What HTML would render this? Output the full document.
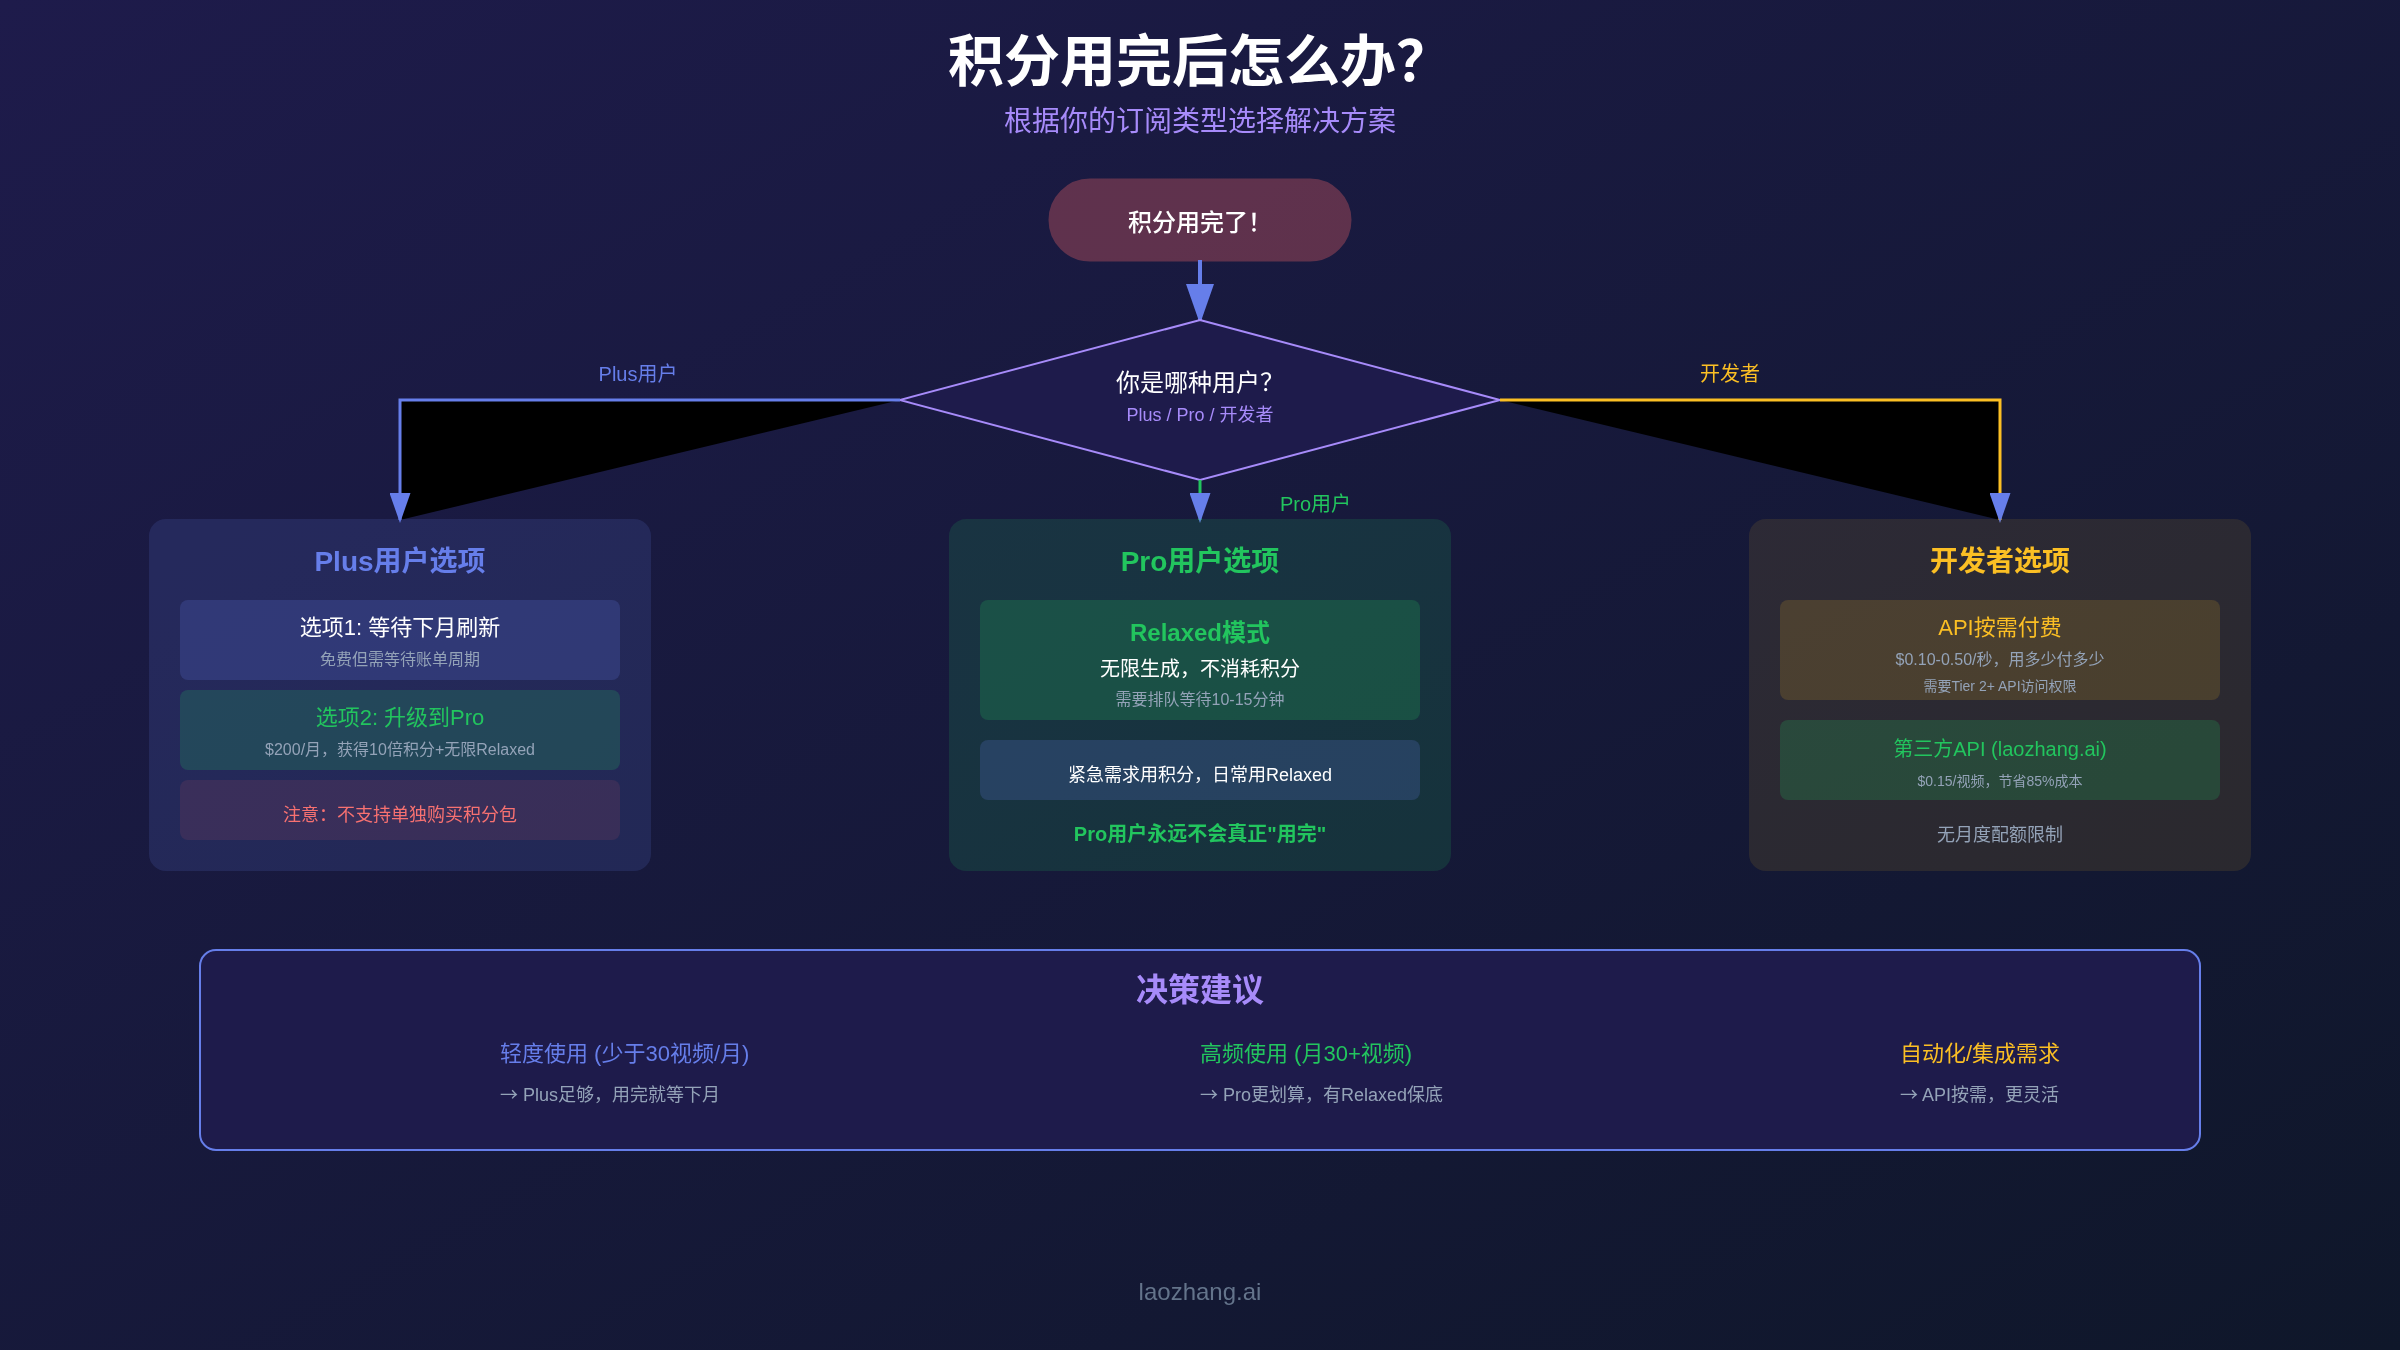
<!DOCTYPE html>
<html lang="zh-CN">
<head>
<meta charset="utf-8">
<title>积分用完后怎么办?</title>
<style>
html,body{margin:0;padding:0;background:#161838;}
body{width:2400px;height:1350px;overflow:hidden;}
svg{display:block;width:2400px;height:1350px;will-change:transform;}
text{font-family:"Liberation Sans","Noto Sans CJK SC",sans-serif;}
.m{text-anchor:middle;}
.b{font-weight:bold;}
.ar{font-family:"Noto Sans CJK SC",sans-serif;}
</style>
</head>
<body>
<svg viewBox="0 0 1200 675" width="2400" height="1350">
<defs>
<linearGradient id="bg" x1="0%" y1="0%" x2="100%" y2="100%">
<stop offset="0%" stop-color="#1e1b4b"/>
<stop offset="100%" stop-color="#0f172a"/>
</linearGradient>
<marker id="arrow" markerWidth="10" markerHeight="7" refX="9" refY="3.5" orient="auto">
<polygon points="0 0, 10 3.5, 0 7" fill="#667eea"/>
</marker>
</defs>
<rect width="1200" height="675" fill="url(#bg)"/>

<!-- header -->
<text x="600" y="40.3" class="m b" font-size="28" fill="#ffffff">积分用完后怎么办？</text>
<text x="600" y="65.3" class="m" font-size="14" fill="#a78bfa">根据你的订阅类型选择解决方案</text>

<!-- start -->
<rect x="525" y="90" width="150" height="40" rx="20" fill="#ff6b6b" stroke="#ff6b6b" stroke-width="1.5" opacity="0.3"/>
<text x="600" y="115.3" class="m" font-size="12" font-weight="500" fill="#ffffff">积分用完了！</text>
<line x1="600" y1="130" x2="600" y2="160" stroke="#667eea" stroke-width="2" marker-end="url(#arrow)"/>

<!-- decision -->
<polygon points="600,160 750,200 600,240 450,200" fill="#1e1b4b" stroke="#a78bfa" stroke-width="1"/>
<text x="600" y="195.3" class="m" font-size="12" fill="#ffffff">你是哪种用户？</text>
<text x="600" y="210.3" class="m" font-size="9" fill="#a78bfa">Plus / Pro / 开发者</text>

<!-- branches -->
<path d="M450,200 L200,200 L200,260" stroke="#667eea" stroke-width="1.5" marker-end="url(#arrow)"/>
<path d="M750,200 L1000,200 L1000,260" stroke="#fbbf24" stroke-width="1.5" marker-end="url(#arrow)"/>
<line x1="600" y1="240" x2="600" y2="260" stroke="#22c55e" stroke-width="1.5" marker-end="url(#arrow)"/>

<text x="319" y="190.3" class="m" font-size="10" fill="#667eea">Plus用户</text>
<text x="640" y="255.3" font-size="10" fill="#22c55e">Pro用户</text>
<text x="865" y="190.3" class="m" font-size="10" fill="#fbbf24">开发者</text>

<!-- Plus card -->
<rect x="75" y="260" width="250" height="175" rx="8" fill="#667eea" stroke="#667eea" stroke-width="1" opacity="0.15"/>
<text x="200" y="285.3" class="m b" font-size="14" fill="#667eea">Plus用户选项</text>
<rect x="90" y="300" width="220" height="40" rx="4" fill="#667eea" fill-opacity="0.2"/>
<text x="200" y="317.3" class="m" font-size="11" fill="#ffffff">选项1: 等待下月刷新</text>
<text x="200" y="332.3" class="m" font-size="8" fill="#94a3b8">免费但需等待账单周期</text>
<rect x="90" y="345" width="220" height="40" rx="4" fill="#22c55e" fill-opacity="0.2"/>
<text x="200" y="362.3" class="m" font-size="11" fill="#22c55e">选项2: 升级到Pro</text>
<text x="200" y="377.3" class="m" font-size="8" fill="#94a3b8">$200/月，获得10倍积分+无限Relaxed</text>
<rect x="90" y="390" width="220" height="30" rx="4" fill="#ff6b6b" fill-opacity="0.1"/>
<text x="200" y="410.3" class="m" font-size="9" fill="#f87171">注意：不支持单独购买积分包</text>

<!-- Pro card -->
<rect x="475" y="260" width="250" height="175" rx="8" fill="#22c55e" stroke="#22c55e" stroke-width="1" opacity="0.15"/>
<text x="600" y="285.3" class="m b" font-size="14" fill="#22c55e">Pro用户选项</text>
<rect x="490" y="300" width="220" height="60" rx="4" fill="#22c55e" fill-opacity="0.2"/>
<text x="600" y="320.3" class="m b" font-size="12" fill="#22c55e">Relaxed模式</text>
<text x="600" y="337.8" class="m" font-size="10" fill="#ffffff">无限生成，不消耗积分</text>
<text x="600" y="352.3" class="m" font-size="8" fill="#94a3b8">需要排队等待10-15分钟</text>
<rect x="490" y="370" width="220" height="30" rx="4" fill="#667eea" fill-opacity="0.2"/>
<text x="600" y="390.3" class="m" font-size="9" fill="#ffffff">紧急需求用积分，日常用Relaxed</text>
<text x="600" y="420.3" class="m b" font-size="10" fill="#22c55e">Pro用户永远不会真正"用完"</text>

<!-- Dev card -->
<rect x="875" y="260" width="250" height="175" rx="8" fill="#fbbf24" stroke="#fbbf24" stroke-width="1" opacity="0.1"/>
<text x="1000" y="285.3" class="m b" font-size="14" fill="#fbbf24">开发者选项</text>
<rect x="890" y="300" width="220" height="50" rx="4" fill="#fbbf24" fill-opacity="0.15"/>
<text x="1000" y="317.3" class="m" font-size="11" fill="#fbbf24">API按需付费</text>
<text x="1000" y="332.3" class="m" font-size="8" fill="#94a3b8">$0.10-0.50/秒，用多少付多少</text>
<text x="1000" y="345.3" class="m" font-size="7" fill="#94a3b8">需要Tier 2+ API访问权限</text>
<rect x="890" y="360" width="220" height="40" rx="4" fill="#22c55e" fill-opacity="0.2"/>
<text x="1000" y="377.8" class="m" font-size="10" fill="#22c55e">第三方API (laozhang.ai)</text>
<text x="1000" y="392.8" class="m" font-size="7" fill="#94a3b8">$0.15/视频，节省85%成本</text>
<text x="1000" y="420.3" class="m" font-size="9" fill="#94a3b8">无月度配额限制</text>

<!-- advice -->
<rect x="100" y="475" width="1000" height="100" rx="8" fill="#1e1b4b" stroke="#667eea" stroke-width="1"/>
<text x="600" y="500.3" class="m b" font-size="16" fill="#a78bfa">决策建议</text>
<text x="250" y="530.3" font-size="11" fill="#667eea">轻度使用 (少于30视频/月)</text>
<text x="250" y="550.3" font-size="9" fill="#94a3b8"><tspan class="ar">→</tspan> Plus足够，用完就等下月</text>
<text x="600" y="530.3" font-size="11" fill="#22c55e">高频使用 (月30+视频)</text>
<text x="600" y="550.3" font-size="9" fill="#94a3b8"><tspan class="ar">→</tspan> Pro更划算，有Relaxed保底</text>
<text x="950" y="530.3" font-size="11" fill="#fbbf24">自动化/集成需求</text>
<text x="950" y="550.3" font-size="9" fill="#94a3b8"><tspan class="ar">→</tspan> API按需，更灵活</text>

<text x="600" y="650" class="m" font-size="12" fill="#64748b">laozhang.ai</text>
</svg>
</body>
</html>
